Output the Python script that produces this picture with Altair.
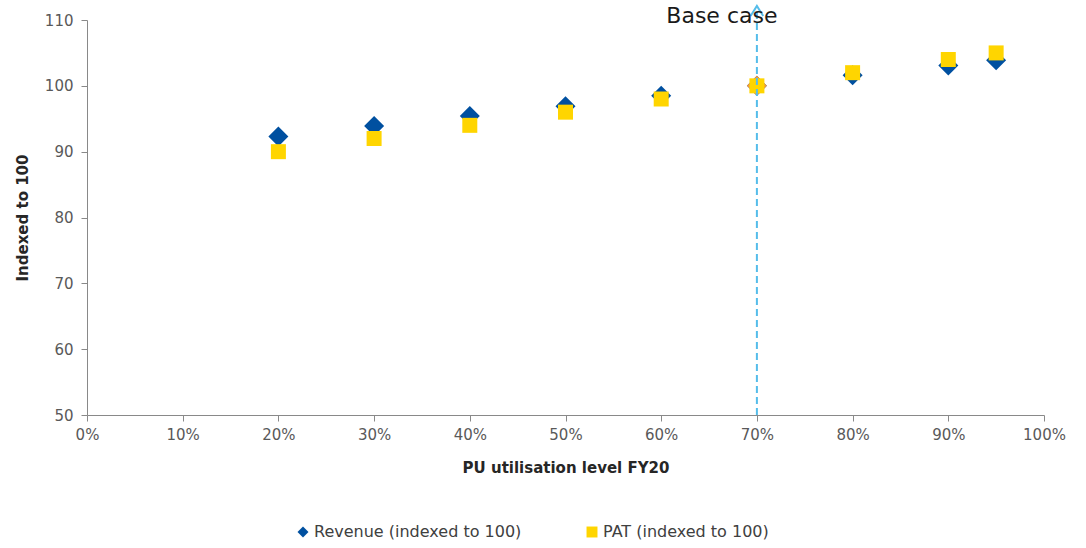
import altair as alt
import pandas as pd

# Sensitivity of revenue and PAT to PU utilisation (indexed, base case = 100)
utilisation = [0.2, 0.3, 0.4, 0.5, 0.6, 0.7, 0.8, 0.9, 0.95]
revenue = [92.3, 93.9, 95.4, 96.9, 98.5, 100.0, 101.6, 103.1, 103.9]
pat = [90.0, 92.0, 94.0, 96.0, 98.0, 100.0, 102.0, 104.0, 105.0]
base_case = 0.7

series_names = ["Revenue (indexed to 100)", "PAT (indexed to 100)"]
series_colors = ["#0050A0", "#FFD500"]
series_shapes = ["diamond", "square"]

FONT = "DejaVu Sans"

rows = []
for u, r, p in zip(utilisation, revenue, pat):
    rows.append({"util": u, "value": r, "series": series_names[0]})
    rows.append({"util": u, "value": p, "series": series_names[1]})
df = pd.DataFrame(rows)
base_df = pd.DataFrame({"util": [base_case], "label": ["Base case"]})

x_scale = alt.Scale(domain=[0, 1], nice=False)
y_scale = alt.Scale(domain=[50, 110], nice=False)

x_axis = alt.Axis(
    values=[i / 10 for i in range(11)], format=".0%", title="PU utilisation level FY20",
    grid=False, labelFontSize=15, labelColor="#595959", labelPadding=6, labelFlush=False,
    titleFontSize=15, titleFontWeight="bold", titleColor="#262626", titlePadding=18,
    domainColor="#898989", tickColor="#898989", tickSize=6, labelFont=FONT, titleFont=FONT,
)
y_axis = alt.Axis(
    values=list(range(50, 111, 10)), title="Indexed to 100", grid=False,
    labelFontSize=15, labelColor="#595959", labelPadding=8, labelFlush=False,
    titleFontSize=15, titleFontWeight="bold", titleColor="#262626", titlePadding=14,
    domainColor="#898989", tickColor="#898989", tickSize=6, labelFont=FONT, titleFont=FONT,
)

color_enc = alt.Color(
    "series:N",
    scale=alt.Scale(domain=series_names, range=series_colors),
    legend=alt.Legend(
        orient="none", direction="horizontal", legendX=208, legendY=504, title=None,
        labelFontSize=16, labelColor="#404040", labelFont=FONT, columnPadding=62,
        symbolSize=120, symbolOffset=0, labelOffset=3, labelLimit=0,
    ),
)
shape_enc = alt.Shape("series:N", scale=alt.Scale(domain=series_names, range=series_shapes), legend=None)

base = alt.Chart(df).encode(
    x=alt.X("util:Q", scale=x_scale, axis=x_axis),
    y=alt.Y("value:Q", scale=y_scale, axis=y_axis),
)

rev_points = base.transform_filter(alt.datum.series == series_names[0]).mark_point(
    filled=True, opacity=1, size=400
).encode(color=color_enc, shape=shape_enc)

# base-case revenue point highlighted in orange
rev_base = base.transform_filter(
    (alt.datum.series == series_names[0]) & (alt.datum.util == base_case)
).mark_point(filled=True, opacity=1, size=400, shape="diamond", color="#F39A3B")

pat_points = base.transform_filter(alt.datum.series == series_names[1]).mark_point(
    filled=True, opacity=1, size=225
).encode(color=color_enc, shape=shape_enc)

line_color = "#55BDEA"
base_line = alt.Chart(base_df).mark_rule(color=line_color, strokeWidth=2, strokeDash=[7, 4]).encode(
    x=alt.X("util:Q", scale=x_scale), y=alt.value(395), y2=alt.value(-14)
)
arrow_head = alt.Chart(base_df).mark_point(
    shape="M-1,0.8L0,-0.8L1,0.8", filled=False, color=line_color, strokeWidth=2, size=160, opacity=1
).encode(x=alt.X("util:Q", scale=x_scale), y=alt.value(-9))
base_label = alt.Chart(base_df).mark_text(
    fontSize=22, font=FONT, color="#1a1a1a", dx=-35, baseline="middle"
).encode(x=alt.X("util:Q", scale=x_scale), y=alt.value(-4), text="label:N")

chart = alt.layer(rev_points, rev_base, pat_points, base_line, arrow_head, base_label).properties(
    width=957, height=395, background="white",
    autosize=alt.AutoSizeParams(type="none"),
    padding={"left": 87, "top": 20, "right": 42, "bottom": 133},
).configure_view(stroke=None)

chart.save("out.html", embed_options={"renderer": "svg", "actions": False})
